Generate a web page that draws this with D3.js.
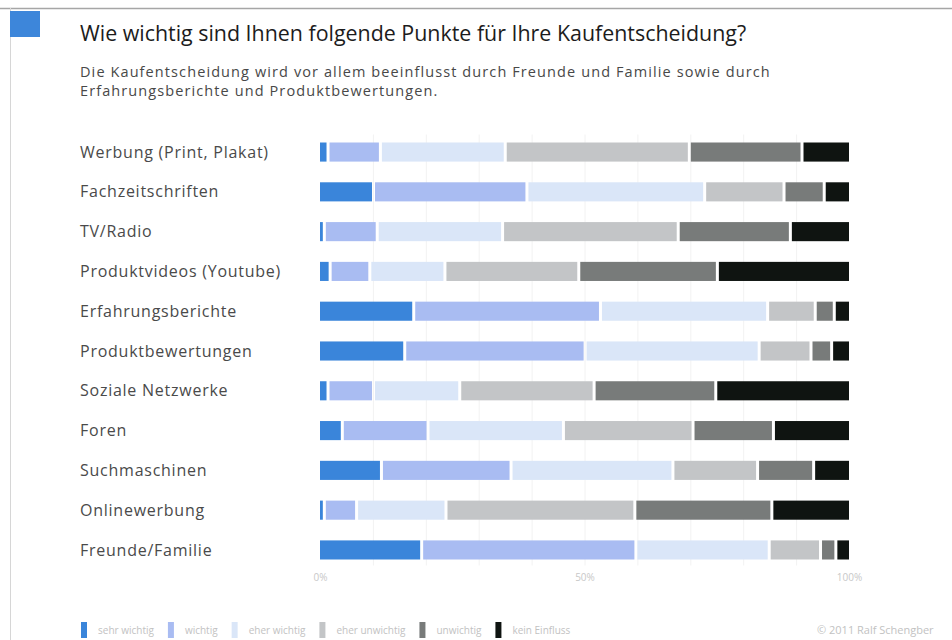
<!DOCTYPE html>
<html>
<head>
<meta charset="utf-8">
<script src="https://cdn.jsdelivr.net/npm/d3@7"></script>
<style>
  body { margin: 0; background: #fff; }
  svg { display: block; font-family: "Open Sans", Lato, sans-serif; }
</style>
</head>
<body>
<div id="chart_container"></div>
<script>

height = 640
width = 952

margin = ({top: 142.5, right: 103, bottom: 80.5, left: 320})

// Kategorien von oben nach unten
categories = ['Werbung (Print, Plakat)', 'Fachzeitschriften', 'TV/Radio', 'Produktvideos (Youtube)',
	'Erfahrungsberichte', 'Produktbewertungen', 'Soziale Netzwerke', 'Foren',
	'Suchmaschinen', 'Onlinewerbung', 'Freunde/Familie']

levels = ['sehr wichtig', 'wichtig', 'eher wichtig', 'eher unwichtig', 'unwichtig', 'kein Einfluss']

// Anteile in % je Kategorie
sehrWichtig   = [1.8, 10.4, 1.1, 2.2, 18.0, 16.3, 1.8, 4.5, 11.9, 1.1, 19.5]
wichtig       = [9.9, 29.0, 10.0, 7.5, 35.3, 34.1, 8.6, 16.2, 24.5, 6.1, 40.5]
eherWichtig   = [23.6, 33.6, 23.7, 14.2, 31.6, 32.9, 16.3, 25.6, 30.6, 16.9, 25.2]
eherUnwichtig = [34.8, 15.0, 33.2, 25.3, 9.0, 9.8, 25.4, 24.5, 16.0, 35.7, 9.7]
unwichtig     = [21.3, 7.6, 21.2, 26.2, 3.6, 3.9, 23.0, 15.2, 10.6, 25.9, 2.9]
keinEinfluss  = [8.6, 4.4, 10.8, 24.6, 2.5, 3.0, 24.9, 14.0, 6.4, 14.3, 2.2]

tickValues = [0, 50, 100]

colors = ['#3a85da', '#a9bcf2', '#dae6f8', '#c3c5c7', '#787b7a', '#0f1411']

let series = [sehrWichtig, wichtig, eherWichtig, eherUnwichtig, unwichtig, keinEinfluss]

let rows = categories.map(function(c, i){
	let row = {category: c}
	levels.forEach(function(l, j){ row[l] = series[j][i] })
	return row
})

let stacked = d3.stack().keys(levels)(rows)

let x = d3.scaleLinear()
	.domain([0, 100])
	.range([margin.left, width - margin.right])

let y = d3.scaleBand()
	.domain(categories)
	.range([margin.top, height - margin.bottom])
	.paddingInner(0.52)
	.paddingOuter(0)

let color = d3.scaleOrdinal()
	.domain(levels)
	.range(colors)

const svg = d3.select('#chart_container').append('svg')
	.attr('width', width)
	.attr('height', height)

// Rahmen oben und links
svg.append('line')
	.attr('x1', 0).attr('x2', width)
	.attr('y1', 8.5).attr('y2', 8.5)
	.attr('stroke', '#a6a6a6')
	.attr('stroke-width', 1.5)

svg.append('line')
	.attr('x1', 10.5).attr('x2', 10.5)
	.attr('y1', 8).attr('y2', height)
	.attr('stroke', '#d6d6d6')

svg.append('rect')
	.attr('x', 10).attr('y', 11)
	.attr('width', 30).attr('height', 26)
	.attr('fill', '#3d86da')

svg.append('text')
	.attr('x', 80)
	.attr('y', 41)
	.attr('font-size', 21.4)
	.attr('fill', '#1c1c1c')
	.text('Wie wichtig sind Ihnen folgende Punkte für Ihre Kaufentscheidung?')

svg.append('g')
	.selectAll('text')
	.data(['Die Kaufentscheidung wird vor allem beeinflusst durch Freunde und Familie sowie durch',
		'Erfahrungsberichte und Produktbewertungen.'])
	.join('text')
	.attr('x', 80)
	.attr('y', (d, i) => 77 + i * 18.5)
	.attr('font-size', 14.5)
	.attr('letter-spacing', 1.1)
	.attr('fill', '#484848')
	.text(d => d)

// feine Gitterlinien alle 10%
svg.append('g')
	.selectAll('line')
	.data(d3.range(10, 100, 10))
	.join('line')
	.attr('x1', d => x(d) + 0.5)
	.attr('x2', d => x(d) + 0.5)
	.attr('y1', margin.top - 8)
	.attr('y2', height - margin.bottom + 6)
	.attr('stroke', '#f2f2f2')

// Kategorie-Beschriftungen
svg.append('g')
	.selectAll('text')
	.data(categories)
	.join('text')
	.attr('x', 80)
	.attr('y', d => y(d) + y.bandwidth() / 2)
	.attr('dy', '0.35em')
	.attr('font-size', 16)
	.attr('letter-spacing', 0.75)
	.attr('fill', '#4a4a4a')
	.text(d => d)

// gestapelte Balken
svg.append('g')
	.selectAll('g')
	.data(stacked)
	.join('g')
	.attr('fill', d => color(d.key))
	.selectAll('rect')
	.data(d => d.map(v => Object.assign(v, {last: d.index == levels.length - 1})))
	.join('rect')
	.attr('x', d => x(d[0]))
	.attr('y', d => y(d.data.category))
	.attr('width', d => Math.max(1.5, x(d[1]) - x(d[0]) - (d.last ? 0 : 3)))
	.attr('height', y.bandwidth())

// Achse unten
svg.append('g')
	.attr('transform', `translate(0,${height - margin.bottom + 11})`)
	.call(d3.axisBottom(x).tickValues(tickValues).tickFormat(d => d + '%').tickSize(0))
	.call(g => g.select('.domain').remove())
	.call(g => g.selectAll('text')
		.attr('fill', '#c8c8c8')
		.attr('font-size', 10)
		.attr('font-family', '"Open Sans", sans-serif'))

// Legende
let legend = svg.append('g')
	.attr('transform', 'translate(81,622)')

let lx = 0
levels.forEach(function(l){
	legend.append('rect')
		.attr('x', lx).attr('y', 0)
		.attr('width', 6).attr('height', 16)
		.attr('fill', color(l))
	let t = legend.append('text')
		.attr('x', lx + 17)
		.attr('y', 12)
		.attr('font-size', 10)
		.attr('fill', '#c2c2c2')
		.text(l)
	lx += 17 + t.node().getComputedTextLength() + 14
})

svg.append('text')
	.attr('x', 817)
	.attr('y', 634)
	.attr('font-size', 11)
	.attr('fill', '#c2c2c2')
	.text('© 2011 Ralf Schengber')

</script>
</body>
</html>
